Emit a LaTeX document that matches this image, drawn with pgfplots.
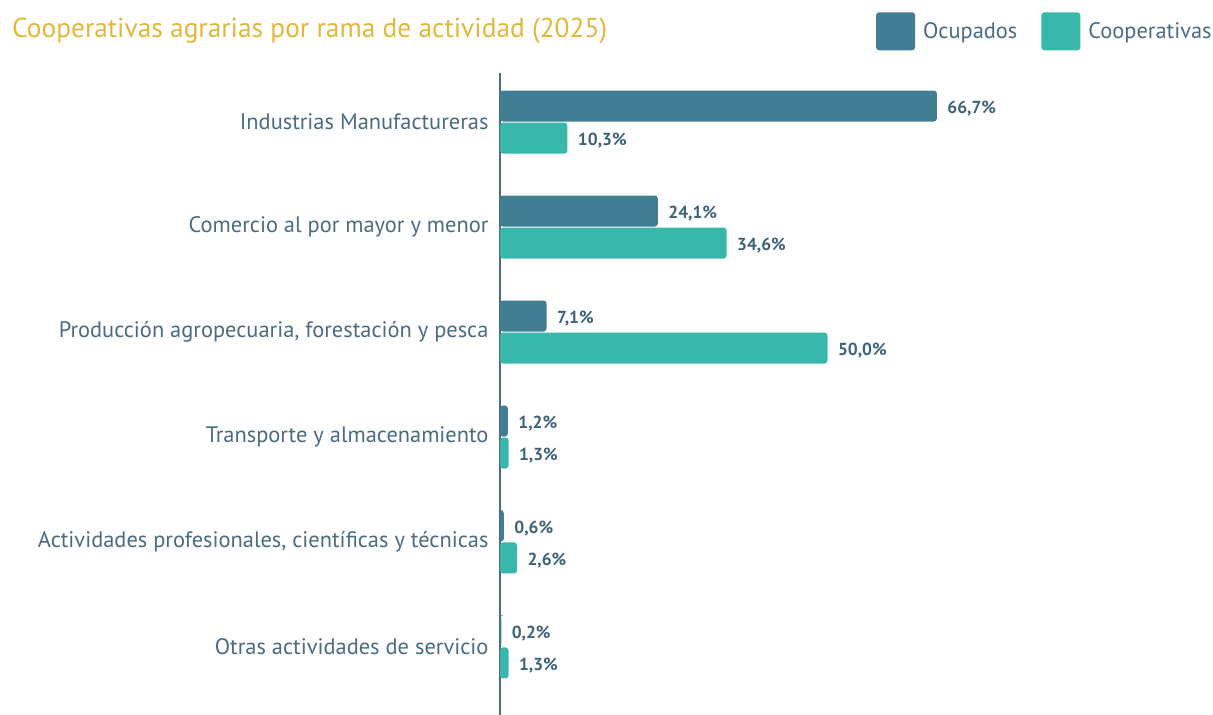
\documentclass[border=0pt]{standalone}
\usepackage{fontspec}
\setmainfont{PT Sans}
\usepackage{pgfplots}
\pgfplotsset{compat=1.18}
\definecolor{ocup}{HTML}{417D93}
\definecolor{coop}{HTML}{38B7AB}
\definecolor{txt}{HTML}{4B6B80}
\definecolor{val}{HTML}{3E6379}
\definecolor{ttl}{HTML}{E0B83A}

\begin{document}
\begin{tikzpicture}
  \useasboundingbox (0,0) rectangle (1213bp,-715bp);
  \node[anchor=west, text=ttl, font=\fontsize{27.5}{30}\selectfont, inner sep=0pt]
    at (12bp,-31bp) {Cooperativas agrarias por rama de actividad (2025)};
  \begin{axis}[
      at={(500bp,-73bp)}, anchor=north west,
      scale only axis,
      width=524bp, height=642bp,
      xmin=0, xmax=80,
      ymin=-0.467, ymax=5.648,
      y dir=reverse,
      xbar=1bp,
      bar width=31bp,
      axis x line=none,
      axis y line*=left,
      y axis line style={draw=txt, line width=1.2pt, -},
      ytick={0,...,5},
      yticklabels={Industrias Manufactureras,
        Comercio al por mayor y menor,
        {Producción agropecuaria, forestación y pesca},
        Transporte y almacenamiento,
        {Actividades profesionales, científicas y técnicas},
        Otras actividades de servicio},
      ytick style={draw=none},
      major tick length=0pt,
      yticklabel style={text=txt, font=\fontsize{22.5}{25}\selectfont, xshift=-8bp},
      nodes near coords={\pgfmathprintnumber[fixed, fixed zerofill, precision=1, use comma, assume math mode=true]{\pgfplotspointmeta}\%},
      point meta=explicit symbolic,
      nodes near coords style={anchor=west, text=val, font=\bfseries\fontsize{17.5}{20}\selectfont, xshift=7bp, yshift=-3bp},
      legend style={draw=none, fill=none, at={(1.368,1.098)}, anchor=north east,
        legend columns=2, font=\fontsize{22.5}{25}\selectfont, text=txt,
        /tikz/every odd column/.append style={column sep=6bp},
        /tikz/every even column/.append style={column sep=22bp},
        legend cell align=left},
      legend image code/.code={\fill[#1, rounded corners=3bp] (0bp,-19bp) rectangle (39bp,19bp);},
      clip=false,
    ]
    \addplot[fill=ocup, draw=none, rounded corners=3bp, bar shift=16bp] coordinates {
      (66.7,0) [66.7] (24.1,1) [24.1] (7.1,2) [7.1]
      (1.2,3) [1.2] (0.6,4) [0.6] (0.2,5) [0.2]};
    \addplot[fill=coop, draw=none, rounded corners=3bp, bar shift=-16bp] coordinates {
      (10.3,0) [10.3] (34.6,1) [34.6] (50.0,2) [50.0]
      (1.3,3) [1.3] (2.6,4) [2.6] (1.3,5) [1.3]};
    \legend{Ocupados, Cooperativas}
  \end{axis}
\end{tikzpicture}
\end{document}
